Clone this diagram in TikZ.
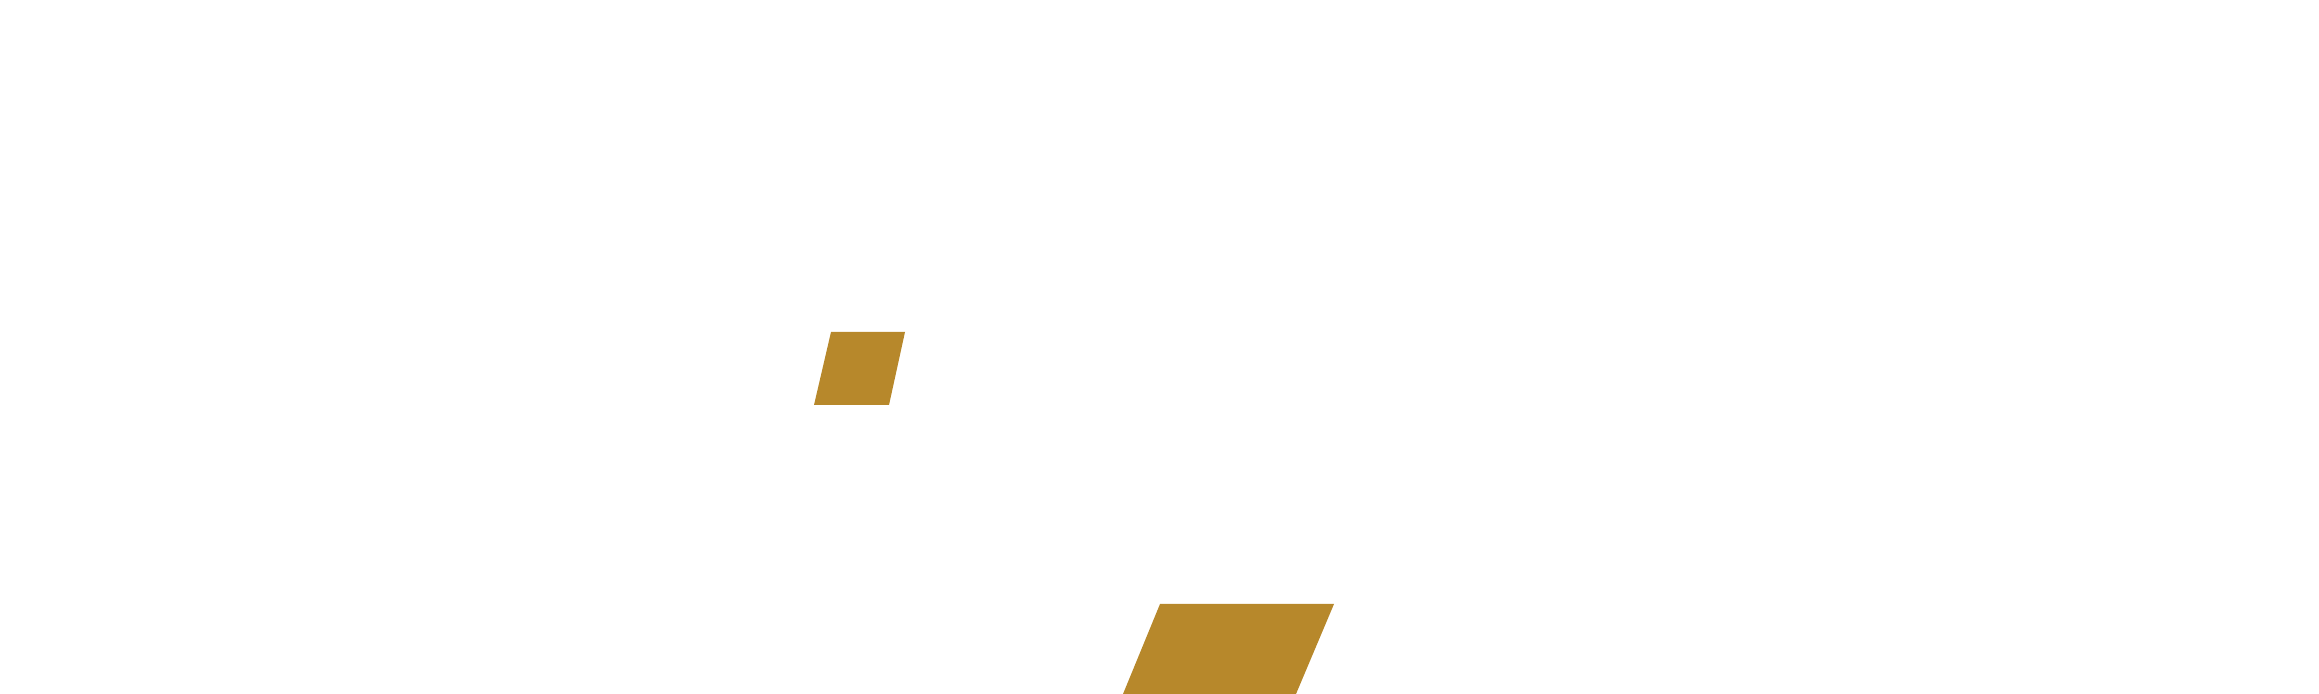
\documentclass[tikz,border=0pt]{standalone}
\definecolor{gold}{HTML}{B7882B}
\tikzset{goldpara/.style={fill=gold,draw=none}}
\begin{document}
\begin{tikzpicture}
	\useasboundingbox (0,0) rectangle (23.19,6.94);

	\fill[goldpara] (8.31,3.62) -- (9.05,3.62) -- (8.89,2.89) -- (8.14,2.89) -- cycle;
	\fill[goldpara] (11.60,0.90) -- (13.34,0.90) -- (12.96,0) -- (11.23,0) -- cycle;
\end{tikzpicture}
\end{document}
